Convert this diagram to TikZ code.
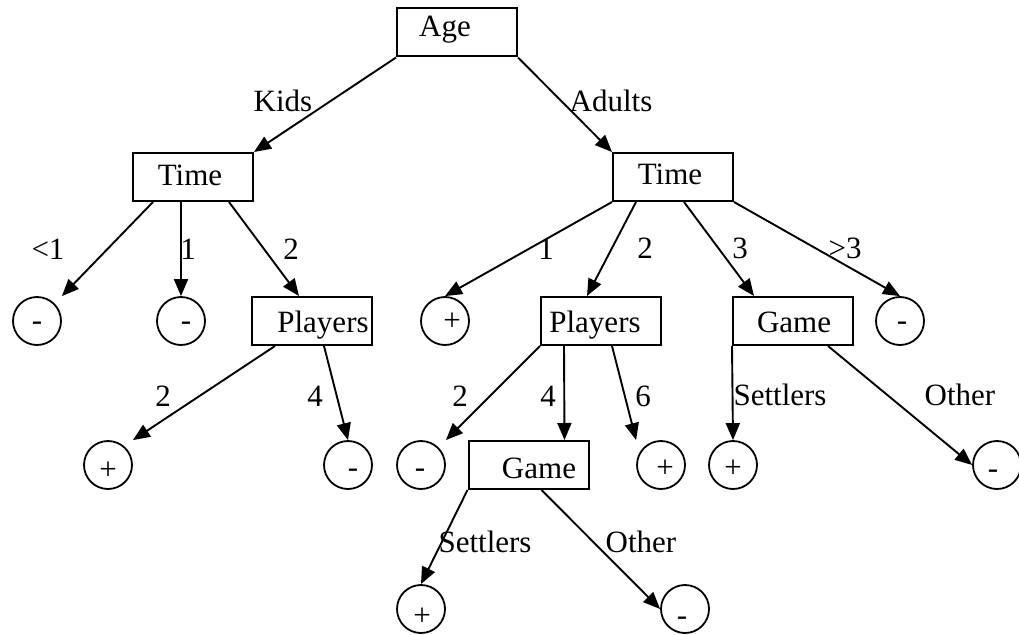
\documentclass[tikz,border=0pt]{standalone}
\usepackage{fontspec}
\setmainfont{Liberation Serif}
\usetikzlibrary{arrows.meta}
\begin{document}
\begin{tikzpicture}[x=1pt,y=-1pt,
  box/.style={draw,line width=2pt,minimum width=120pt,minimum height=48pt,inner sep=0pt},
  leaf/.style={draw,circle,line width=1.8pt,minimum size=48pt,inner sep=0pt},
  txt/.style={anchor=base,inner sep=0pt,font=\fontsize{31}{37}\selectfont},
  edge/.style={line width=1.9pt,-{Triangle[length=17pt,width=14pt]}}]
\useasboundingbox (0,0) rectangle (1019,634);
% boxes
\node[box] (age) at (457,32.5) {};
\node[box] (kt) at (193,177) {};
\node[box] (at) at (673,177) {};
\node[box] (kp) at (312,321) {};
\node[box] (ap) at (601,321) {};
\node[box] (rg) at (793,321) {};
\node[box] (bg) at (528.5,465) {};
% box texts
\node[txt] (tage) at (445,37) {Age};
\node[txt] (tkt) at (190,185) {Time};
\node[txt] (tat) at (670,184) {Time};
\node[txt] (tkp) at (323,332) {Players};
\node[txt] (tap) at (595,332) {Players};
\node[txt] (trg) at (794,332) {Game};
\node[txt] (tbg) at (539,478) {Game};
% leaves
\node[leaf] (c1) at (37,321) {};
\node[leaf] (c2) at (181,321) {};
\node[leaf] (c3) at (108,465) {};
\node[leaf] (c4) at (348,465) {};
\node[leaf] (c5) at (445,321) {};
\node[leaf] (c6) at (900,321) {};
\node[leaf] (c7) at (421,465) {};
\node[leaf] (c8) at (661,465) {};
\node[leaf] (c9) at (733,465) {};
\node[leaf] (c10) at (997,465) {};
\node[leaf] (c11) at (421,609) {};
\node[leaf] (c12) at (685,609) {};
% signs
\node[txt] (s1) at (37,330) {-};
\node[txt] (s2) at (186,330) {-};
\node[txt] (s3) at (108,479) {+};
\node[txt] (s4) at (353,477) {-};
\node[txt] (s5) at (452,330) {+};
\node[txt] (s6) at (902,330) {-};
\node[txt] (s7) at (420,477) {-};
\node[txt] (s8) at (665,477) {+};
\node[txt] (s9) at (733,477) {+};
\node[txt] (s10) at (993,478) {-};
\node[txt] (s11) at (422,625) {+};
\node[txt] (s12) at (682,625) {-};
% edges
\draw[edge] (age.south west) -- (kt.north east);
\draw[edge] (age.south east) -- (at.north west);
\draw[edge] ([xshift=21pt]kt.south west) -- (c1.north -| c1.east);
\draw[edge] (kt.south -| c2.north) -- (c2.north);
\draw[edge] ([xshift=97pt]kt.south west) -- ([xshift=48pt]kp.north west);
\draw[edge] ([xshift=24pt]kp.south west) -- (c3.north -| c3.east);
\draw[edge] ([xshift=73pt]kp.south west) -- (c4.north);
\draw[edge] (at.south west) -- (c5.north);
\draw[edge] ([xshift=24pt]at.south west) -- ([xshift=47pt]ap.north west);
\draw[edge] ([xshift=72pt]at.south west) -- ([xshift=22pt]rg.north west);
\draw[edge] (at.south east) -- (c6.north);
\draw[edge] (ap.south west) -- (c7.north -| c7.east);
\draw[edge] ([xshift=24pt]ap.south west) -- ([xshift=97pt]bg.north west);
\draw[edge] ([xshift=72pt]ap.south west) -- (c8.north -| c8.west);
\draw[edge] (rg.south west) -- (c9.north);
\draw[edge] ([xshift=96pt]rg.south west) -- (c10.west);
\draw[edge] (bg.south west) -- (c11.north);
\draw[edge] ([xshift=74pt]bg.south west) -- (c12.west);
% edge labels
\node[txt] (lkids) at (283,111) {Kids};
\node[txt] (ladults) at (611,111) {Adults};
\node[txt] (l1) at (48,259) {<1};
\node[txt] (l2) at (188,259) {1};
\node[txt] (l3) at (291,259) {2};
\node[txt] (l4) at (546,259) {1};
\node[txt] (l5) at (645,258) {2};
\node[txt] (l6) at (740,258) {3};
\node[txt] (l7) at (845,258) {>3};
\node[txt] (l8) at (163,406) {2};
\node[txt] (l9) at (315,406) {4};
\node[txt] (l10) at (460,406) {2};
\node[txt] (l11) at (548,406) {4};
\node[txt] (l12) at (643,406) {6};
\node[txt] (l13) at (780,405) {Settlers};
\node[txt] (l14) at (960,405) {Other};
\node[txt] (l15) at (485,552) {Settlers};
\node[txt] (l16) at (641,552) {Other};
\end{tikzpicture}
\end{document}
